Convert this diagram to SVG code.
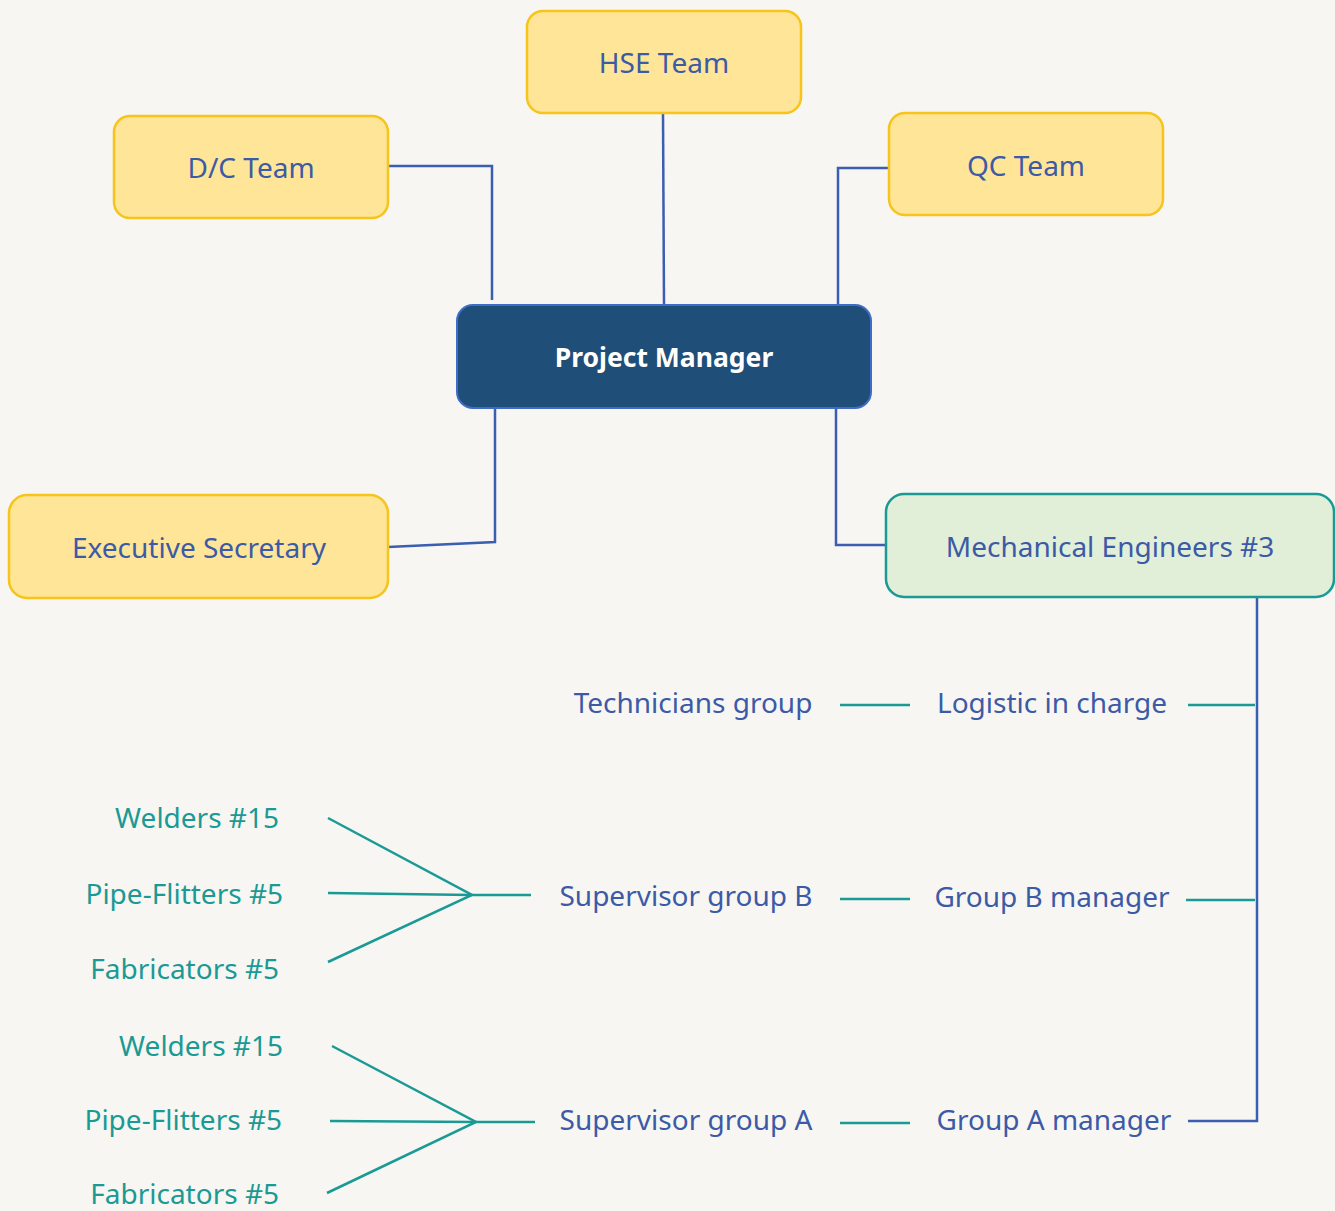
<svg xmlns="http://www.w3.org/2000/svg" width="1335" height="1211" viewBox="0 0 1335 1211">
<style>
.bg{fill:#f7f6f3}
.y rect{fill:#fee597;stroke:#f6c41a;stroke-width:2.5}
.pm rect{fill:#1f4e79;stroke:#3f6cc4;stroke-width:2}
.me rect{fill:#e1efd8;stroke:#1a9a94;stroke-width:2.5}
text{font-family:"Noto Sans","Liberation Sans",sans-serif;font-size:28px;dominant-baseline:central}
.b{fill:#3c5aa6}
.t{fill:#1a9a94}
.w{fill:#ffffff;font-weight:bold;font-size:26.5px}
.c{text-anchor:middle}
.r{text-anchor:end}
.cb{fill:none;stroke:#3c5eb0;stroke-width:2.5}
.ct{fill:none;stroke:#1a9a94;stroke-width:2.5}
</style>
<rect class="bg" width="1335" height="1211"/>
<g id="connectors">
<polyline class="cb" points="388,166 492,166 492,300"/>
<polyline class="cb" points="663,113 664,305"/>
<polyline class="cb" points="889,168 838,168 838,305"/>
<polyline class="cb" points="388,547 495,542 495,408"/>
<polyline class="cb" points="836,408 836,545 886,545"/>
<polyline class="cb" points="1257,597 1257,1121 1188,1121"/>
<line class="ct" x1="1188" y1="705" x2="1255" y2="705"/>
<line class="ct" x1="1186" y1="900" x2="1255" y2="900"/>
<line class="ct" x1="840" y1="705" x2="910" y2="705"/>
<line class="ct" x1="840" y1="899" x2="910" y2="899"/>
<line class="ct" x1="840" y1="1123" x2="910" y2="1123"/>
<polyline class="ct" points="328,818 472,895 328,962"/>
<line class="ct" x1="328" y1="893" x2="472" y2="895"/>
<line class="ct" x1="472" y1="895" x2="531" y2="895"/>
<polyline class="ct" points="332,1046 476,1122 327,1193"/>
<line class="ct" x1="330" y1="1121" x2="476" y2="1122"/>
<line class="ct" x1="476" y1="1122" x2="535" y2="1122"/>
</g>
<g id="hse" class="y"><rect x="527" y="11" width="274" height="102" rx="16"/><text class="b c" x="664" y="62">HSE Team</text></g>
<g id="dc" class="y"><rect x="114" y="116" width="274" height="102" rx="16"/><text class="b c" x="251" y="167">D/C Team</text></g>
<g id="qc" class="y"><rect x="889" y="113" width="274" height="102" rx="16"/><text class="b c" x="1026" y="165">QC Team</text></g>
<g id="pm" class="pm"><rect x="457" y="305" width="414" height="103" rx="16"/><text class="w c" x="664" y="357">Project Manager</text></g>
<g id="exec" class="y"><rect x="9" y="495" width="379" height="103" rx="18"/><text class="b c" x="199" y="547">Executive Secretary</text></g>
<g id="mech" class="me"><rect x="886" y="494" width="448" height="103" rx="18"/><text class="b c" x="1110" y="546">Mechanical Engineers #3</text></g>
<g id="technicians"><text class="b c" x="693" y="702">Technicians group</text></g>
<g id="logistic"><text class="b c" x="1052" y="702">Logistic in charge</text></g>
<g id="supB"><text class="b c" x="686" y="895">Supervisor group B</text></g>
<g id="grpB"><text class="b c" x="1052" y="896">Group B manager</text></g>
<g id="supA"><text class="b c" x="686" y="1119">Supervisor group A</text></g>
<g id="grpA"><text class="b c" x="1054" y="1119">Group A manager</text></g>
<g id="weldB"><text class="t r" x="279" y="817">Welders #15</text></g>
<g id="pipeB"><text class="t r" x="283" y="893">Pipe-Flitters #5</text></g>
<g id="fabB"><text class="t r" x="279" y="968">Fabricators #5</text></g>
<g id="weldA"><text class="t r" x="283" y="1045">Welders #15</text></g>
<g id="pipeA"><text class="t r" x="282" y="1119">Pipe-Flitters #5</text></g>
<g id="fabA"><text class="t r" x="279" y="1193">Fabricators #5</text></g>
</svg>
